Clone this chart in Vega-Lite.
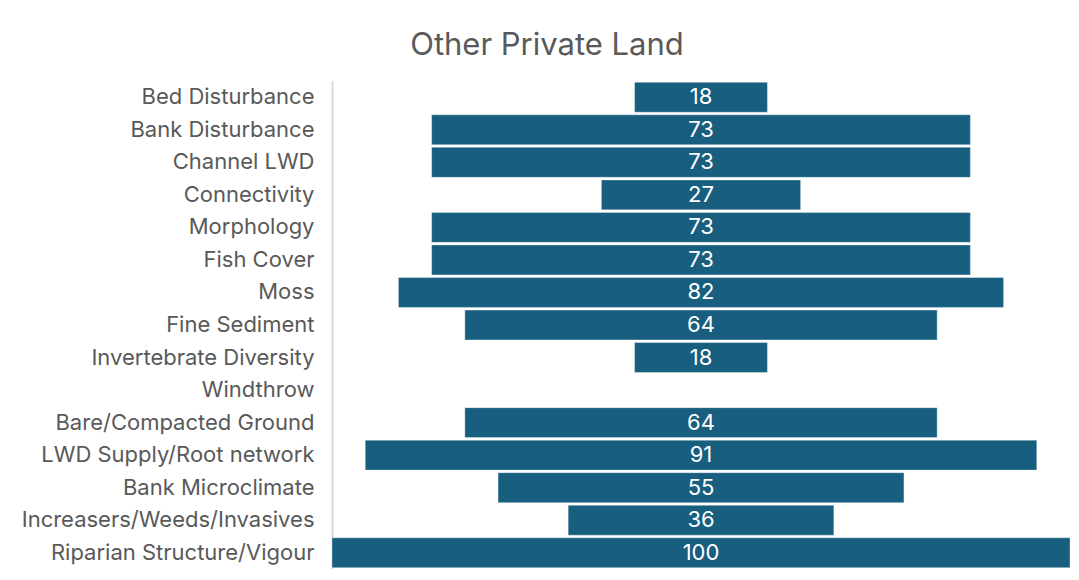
{
  "$schema": "https://vega.github.io/schema/vega-lite/v6.json",
  "autosize": {"type": "none"},
  "padding": {"left": 332, "top": 81, "right": 0, "bottom": 0},
  "width": 738,
  "height": 488,
  "background": "white",
  "title": {
    "text": "Other Private Land",
    "fontSize": 31,
    "font": "Inter",
    "fontWeight": "normal",
    "color": "#595959",
    "anchor": "middle",
    "dx": -154,
    "offset": 19
  },
  "data": {
    "values": [
      {"metric": "Bed Disturbance", "value": 18},
      {"metric": "Bank Disturbance", "value": 73},
      {"metric": "Channel LWD", "value": 73},
      {"metric": "Connectivity", "value": 27},
      {"metric": "Morphology", "value": 73},
      {"metric": "Fish Cover", "value": 73},
      {"metric": "Moss", "value": 82},
      {"metric": "Fine Sediment", "value": 64},
      {"metric": "Invertebrate Diversity", "value": 18},
      {"metric": "Windthrow", "value": 0},
      {"metric": "Bare/Compacted Ground", "value": 64},
      {"metric": "LWD Supply/Root network", "value": 91},
      {"metric": "Bank Microclimate", "value": 55},
      {"metric": "Increasers/Weeds/Invasives", "value": 36},
      {"metric": "Riparian Structure/Vigour", "value": 100}
    ]
  },
  "encoding": {
    "y": {
      "field": "metric",
      "type": "nominal",
      "sort": null,
      "scale": {"paddingInner": 0.08, "paddingOuter": 0.04},
      "axis": {
        "title": null,
        "ticks": false,
        "domainColor": "#d9d9d9",
        "domainWidth": 2,
        "labelFont": "Inter",
        "labelFontSize": 22,
        "labelColor": "#595959",
        "labelPadding": 18,
        "labelLimit": 400
      }
    }
  },
  "layer": [
    {
      "mark": {"type": "bar", "color": "#175E7F", "stroke": "#ffffff", "strokeWidth": 0.6, "strokeOpacity": 0.6},
      "encoding": {
        "x": {
          "field": "value",
          "type": "quantitative",
          "stack": "center",
          "scale": {"domain": [0, 100], "nice": false},
          "axis": null
        }
      }
    },
    {
      "transform": [{"filter": "datum.value > 0"}],
      "mark": {"type": "text", "color": "white", "font": "Inter", "fontSize": 22, "baseline": "middle", "align": "center"},
      "encoding": {
        "x": {"datum": 50, "type": "quantitative"},
        "text": {"field": "value", "type": "quantitative"}
      }
    }
  ],
  "config": {"view": {"stroke": null}}
}
